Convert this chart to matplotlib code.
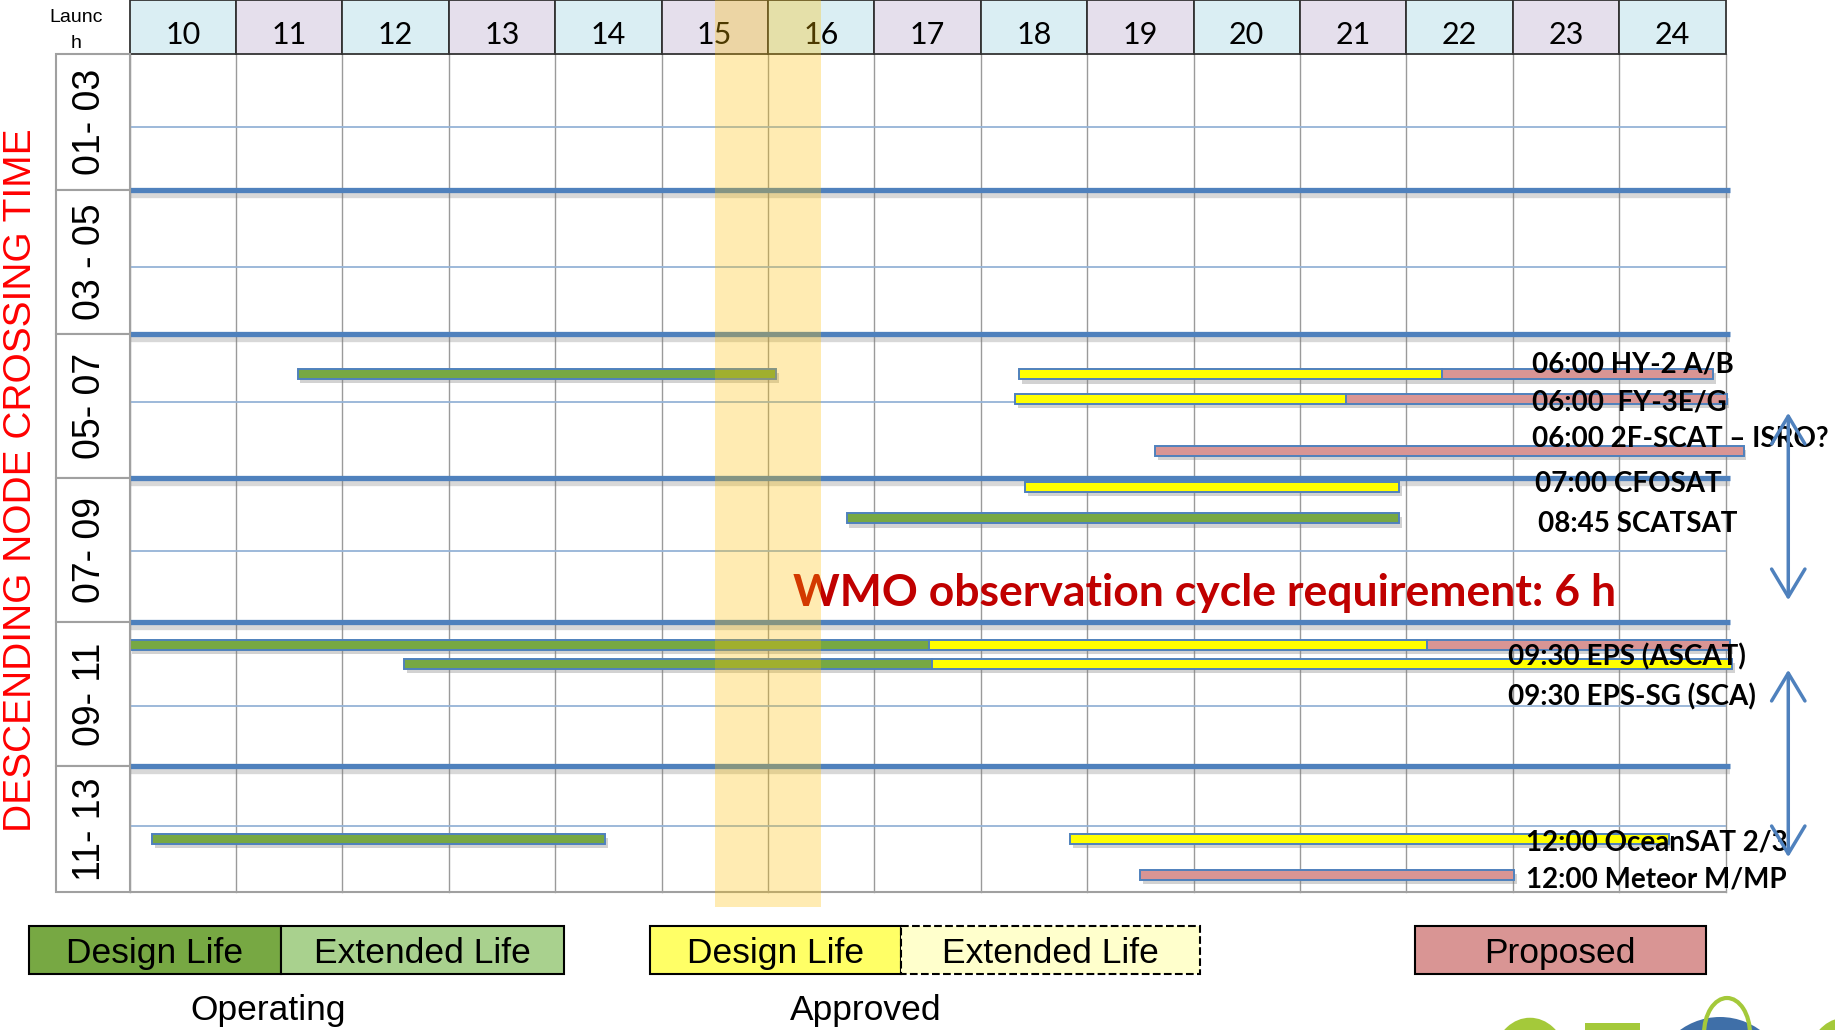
import matplotlib
matplotlib.use("Agg")
import matplotlib.pyplot as plt
import matplotlib.patheffects as pe
import matplotlib.transforms as mtransforms
from matplotlib.patches import Rectangle, FancyArrowPatch, Circle, Arc

# ---------------- data ----------------
years = list(range(10, 25))
year_labels = [str(y) for y in years]
section_edges = [1, 3, 5, 7, 9, 11, 13]
section_labels = ["01- 03", "03 - 05", "05- 07", "07- 09", "09- 11", "11- 13"]
minor_lines = [2.12, 4.07, 5.94, 8.01, 10.17, 11.84]

# each bar: crossing-time position (hour) and its life-cycle segments (start year, end year, kind)
bar_hours = [5.555, 5.56, 5.903, 6.625, 7.121, 7.56, 9.319, 9.583, 12.014, 12.014, 12.514]
bar_segments = [
    [(11.58, 16.08, "op_design")],
    [(18.36, 22.34, "ap_design"), (22.34, 24.88, "proposed")],
    [(18.32, 21.43, "ap_design"), (21.43, 25.01, "proposed")],
    [(19.64, 25.17, "proposed")],
    [(18.42, 21.93, "ap_design")],
    [(16.74, 21.93, "op_design")],
    [(10.00, 17.51, "op_design"), (17.51, 22.19, "ap_design"), (22.19, 25.04, "proposed")],
    [(12.58, 17.54, "op_design"), (17.54, 25.06, "ap_design")],
    [(10.21, 14.47, "op_design")],
    [(18.84, 24.47, "ap_design")],
    [(19.50, 23.01, "proposed")],
]

label_texts = ["06:00 HY-2 A/B", "06:00  FY-3E/G", "06:00 2F-SCAT \u2013 ISRO?",
               "07:00 CFOSAT", "08:45 SCATSAT", "09:30 EPS (ASCAT)",
               "09:30 EPS-SG (SCA)", "12:00 OceanSAT 2/3", "12:00 Meteor M/MP"]
label_years = [23.18, 23.18, 23.18, 23.21, 23.24, 22.955, 22.955, 23.125, 23.125]
label_hours = [5.528, 6.065, 6.574, 7.19, 7.746, 9.597, 10.153, 12.167, 12.694]

wmo_text = "WMO observation cycle requirement: 6 h"
wmo_year, wmo_hour = 20.10, 8.78
cycle_arrows = [(6.056, 8.736), (9.625, 12.305)]
arrow_year = 25.59
highlight_years = (15.5, 16.5)

legend_labels = ["Design Life", "Extended Life", "Design Life", "Extended Life", "Proposed"]
legend_kinds = ["op_design", "op_ext", "leg_ap_design", "ap_ext", "proposed"]
group_labels = ["Operating", "Approved"]

COL = {"op_design": "#77A843", "op_ext": "#A9D18E", "ap_design": "#FFFF00",
       "leg_ap_design": "#FFFF66", "ap_ext": "#FFFFCC", "proposed": "#D99594"}
EDGE = "#4F81BD"

# ---------------- figure / layout ----------------
W, H = 1835, 1030
fig = plt.figure(figsize=(W / 100, H / 100), dpi=100)
PX = mtransforms.Affine2D().scale(1 / W, -1 / H).translate(0, 1) + fig.transFigure

Y0, Y1 = 1.111, 12.75          # visible hour range of the table
tab_l, tab_r, tab_t, tab_b = 129.5, 1725.5, 54, 892
lab_l = 56

def fr(l, t, r, b):
    return [l / W, 1 - b / H, (r - l) / W, (b - t) / H]

ax = fig.add_axes(fr(tab_l, tab_t, tab_r, tab_b))
hax = fig.add_axes(fr(tab_l, 0, tab_r, tab_t))
lax = fig.add_axes(fr(lab_l, tab_t, tab_l, tab_b))
for a in (ax, hax, lax):
    a.axis("off")
ax.set_xlim(years[0], years[-1] + 1)
ax.set_ylim(Y1, Y0)
hax.set_xlim(years[0], years[-1] + 1)
hax.set_ylim(0, 1)
lax.set_xlim(0, 1)
lax.set_ylim(Y1, Y0)

# header cells
for i, (y, lab) in enumerate(zip(years, year_labels)):
    fc = "#DAEEF3" if i % 2 == 0 else "#E5DFEC"
    hax.add_patch(Rectangle((y, 0), 1, 1, fc=fc, ec="#333333", lw=1.3, clip_on=False))
    hax.text(y + 0.5, 0.18, lab, ha="center", va="baseline", fontsize=22,
             family="Lato", color="black")

fig.text(76, 22, "Launc", transform=PX, ha="center", va="baseline", fontsize=14,
         family="Liberation Sans")
fig.text(76, 48, "h", transform=PX, ha="center", va="baseline", fontsize=14,
         family="Liberation Sans")

# row label boxes
for (a, b), lab in zip(zip(section_edges[:-1], section_edges[1:]), section_labels):
    a2, b2 = max(a, Y0), min(b, Y1)
    lax.add_patch(Rectangle((0, a2), 1, b2 - a2, fc="white", ec="#A0A0A0", lw=1.5,
                            clip_on=False))
    lax.text(0.46, (a2 + b2) / 2, lab, rotation=90, ha="center", va="center",
             fontsize=27, family="Liberation Sans")

fig.text(21, 480, "DESCENDING NODE CROSSING TIME", transform=PX, rotation=90,
         ha="center", va="center", fontsize=28, color="#FF0000", family="Liberation Sans")

# grid
for x in range(years[0], years[-1] + 2):
    ax.plot([x, x], [Y0, Y1], color="#9A9A9A", lw=1.0, zorder=1, clip_on=False)
ax.plot([years[0], years[-1] + 1], [Y1, Y1], color="#A0A0A0", lw=1.5, zorder=1, clip_on=False)
for m in minor_lines:
    ax.plot([years[0], years[-1] + 1], [m, m], color="#95B3D7", lw=1.3, zorder=1.5)
line_fx = [pe.SimpleLineShadow(offset=(0, -3), shadow_color="#7f7f7f", alpha=0.3, linewidth=6),
           pe.Normal()]
for e in section_edges[1:-1]:
    ax.plot([9.99, 25.04], [e, e], color=EDGE, lw=3.8, solid_capstyle="butt", zorder=2,
            clip_on=False, path_effects=line_fx)

# bars
bh = 0.14
bar_fx = [pe.SimplePatchShadow(offset=(2, -3), shadow_rgbFace="#808080", alpha=0.35), pe.Normal()]
for yh, segs in zip(bar_hours, bar_segments):
    for s, e, kind in segs:
        ax.add_patch(Rectangle((s, yh - bh / 2), e - s, bh, fc=COL[kind], ec=EDGE, lw=1.4,
                               zorder=3, clip_on=False, path_effects=bar_fx))

for t, xy, yy in zip(label_texts, label_years, label_hours):
    ax.text(xy, yy, t, ha="left", va="baseline", fontsize=20, fontweight="bold",
            family="Lato", color="black", zorder=6, clip_on=False)

ax.text(wmo_year, wmo_hour, wmo_text, ha="center", va="baseline", fontsize=32,
        fontweight="bold", family="Lato", color="#C00000", zorder=6)

for a, b in cycle_arrows:
    ax.add_patch(FancyArrowPatch((arrow_year, a), (arrow_year, b),
                                 arrowstyle="<->,head_length=0.5,head_width=0.3",
                                 mutation_scale=40, color=EDGE, lw=2.5, clip_on=False,
                                 zorder=6))

# highlight band (semi-transparent, over everything)
band_tf = mtransforms.blended_transform_factory(ax.transData, PX)
fig.add_artist(Rectangle((highlight_years[0], 0), highlight_years[1] - highlight_years[0], 907,
                         transform=band_tf, fc="#FFC000", alpha=0.3, ec="none", zorder=20))

# legend
leg_boxes = [(28.7, 281.3), (281.3, 564.3), (649.5, 901), (901, 1199.6), (1414.6, 1706)]
for (l, r), lab, kind in zip(leg_boxes, legend_labels, legend_kinds):
    ls = "--" if kind == "ap_ext" else "-"
    fig.add_artist(Rectangle((l, 926), r - l, 48, transform=PX, fc=COL[kind], ec="black",
                             lw=1.5, ls=ls))
    fig.text((l + r) / 2, 963, lab, transform=PX, ha="center", va="baseline", fontsize=25.5,
             family="Liberation Sans")
for cx, lab in zip([268, 866], group_labels):
    fig.text(cx, 1020, lab, transform=PX, ha="center", va="baseline", fontsize=25.5,
             family="Liberation Sans")

# partial logo at the bottom edge (only its top is visible), drawn as shapes
geo_green = "#A4C93A"
fig.add_artist(Arc((1530, 1062), 62, 76, theta1=200, theta2=340, transform=PX,
                   color=geo_green, lw=9))
fig.add_artist(Rectangle((1585, 1023), 55, 12, transform=PX, fc=geo_green, ec="none"))
fig.add_artist(Arc((1845, 1062), 62, 76, theta1=190, theta2=265, transform=PX,
                   color=geo_green, lw=9))
fig.add_artist(Circle((1720, 1085), 68, transform=PX, fc="#3F6FA8", ec="none"))
fig.add_artist(Arc((1727, 1034), 46, 72, theta1=180, theta2=360, transform=PX,
                   color=geo_green, lw=3))

fig.savefig("out.png", dpi=100)
